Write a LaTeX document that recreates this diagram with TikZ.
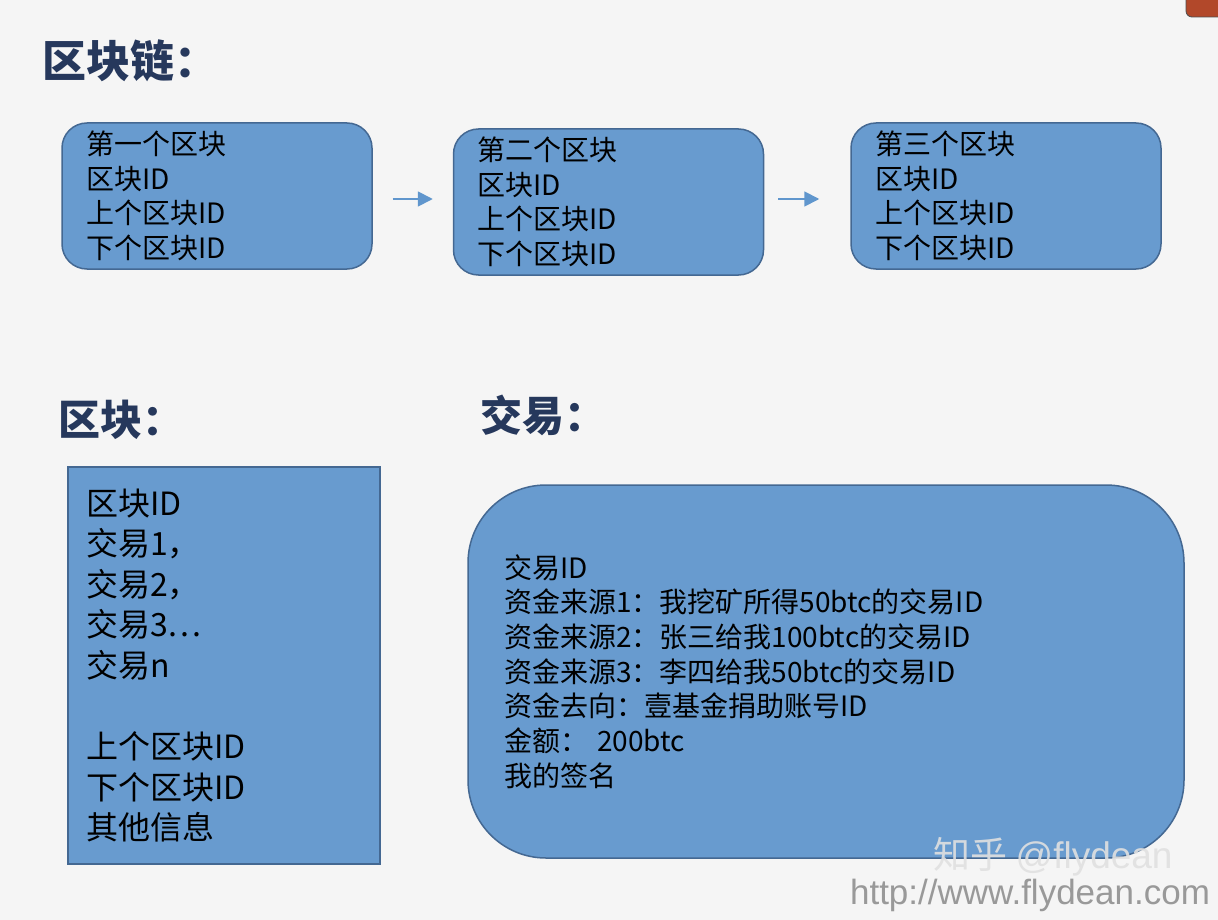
\documentclass[tikz,border=0pt]{standalone}
\usepackage{fontspec}
\newfontfamily\cjk{Noto Sans CJK SC}
\newfontfamily\wmfont{Liberation Sans}
\usepackage{tikz}
\usetikzlibrary{arrows.meta}
\usetikzlibrary{positioning}
\definecolor{bgcol}{RGB}{245,245,245}
\definecolor{boxfill}{RGB}{104,155,207}
\definecolor{boxline}{RGB}{68,104,146}
\definecolor{arrowcol}{RGB}{96,150,205}
\definecolor{titlecol}{RGB}{38,56,92}
\definecolor{cornercol}{RGB}{178,72,42}

\begin{document}
\begin{tikzpicture}[x=1pt,y=-1pt,thick]
      \tikzstyle{heading} = [anchor=west, inner sep=0pt, text=titlecol, font=\cjk\bfseries\fontsize{44}{50}\selectfont]
      \tikzstyle{chain block} = [draw=boxline, fill=boxfill, line width=1.5pt, rounded corners=25pt,
         text width=262pt, inner xsep=24pt, inner ysep=0pt, minimum height=146pt, align=left,
         font=\cjk\fontsize{28}{34.5}\selectfont]
      \tikzstyle{link} = [-{Triangle[length=15pt,width=15pt]}, draw=arrowcol, fill=arrowcol, line width=1.8pt]
      \useasboundingbox (0,0) rectangle (1218,920);
      \fill[bgcol] (0,0) rectangle (1218,920);
      % corner of a window in the screenshot
      \draw[fill=cornercol, draw=black!70, rounded corners=6pt] (1186,-12) rectangle (1240,17);

      %headings
      \node[heading] (hchain)  at (42,61)  {区块链：};
      \node[heading, font=\cjk\bfseries\fontsize{42}{48}\selectfont] (hblock) at (58,420) {区块：};
      \node[heading, font=\cjk\bfseries\fontsize{42}{48}\selectfont] (htrans) at (480,415) {交易：};

      %chain
      \node[chain block] (first)  at (217,196) {第一个区块\\区块ID\\上个区块ID\\下个区块ID};
      \node[chain block] (second) [right=80pt of first, yshift=-6pt] {第二个区块\\区块ID\\上个区块ID\\下个区块ID};
      \node[chain block] (third)  [right=86pt of second, yshift=6pt] {第三个区块\\区块ID\\上个区块ID\\下个区块ID};

      %lines
      \draw[link, shorten <=20pt, shorten >=20pt] ([yshift=-3pt]first.east) -- ([yshift=3pt]second.west);
      \draw[link, shorten <=14pt, shorten >=31pt] ([yshift=3pt]second.east) -- ([yshift=-3pt]third.west);

      %block
      \node[draw=boxline, fill=boxfill, line width=1.5pt, text width=276pt, inner xsep=18pt, inner ysep=0pt,
         minimum height=397pt, align=left, font=\cjk\fontsize{32}{40.6}\selectfont] (block) at (224,665.5)
         {区块ID\\交易1，\\交易2，\\交易3…\\交易n\\[40.6pt]上个区块ID\\下个区块ID\\其他信息};

      %transaction
      \node[draw=boxline, fill=boxfill, line width=1.5pt, rounded corners=78pt, text width=644pt, inner xsep=36pt,
         inner ysep=0pt, minimum height=373pt, align=left, font=\cjk\fontsize{28}{34.7}\selectfont] (trans) at (826,671.5)
         {交易ID\\资金来源1：我挖矿所得50btc的交易ID\\资金来源2：张三给我100btc的交易ID\\资金来源3：李四给我50btc的交易ID\\资金去向：壹基金捐助账号ID\\金额： 200btc\\我的签名};

      %watermark
      \node[text=white!88!black, opacity=0.9, inner sep=0pt, font=\cjk\fontsize{37}{40}\selectfont] (wmname) at (1053,857) {知乎 {\wmfont @flydean}};
      \node[text=black!40, inner sep=0pt, font=\wmfont\fontsize{35}{40}\selectfont] (wmurl) at (1030,895) {http://www.flydean.com};
\end{tikzpicture}
\end{document}
